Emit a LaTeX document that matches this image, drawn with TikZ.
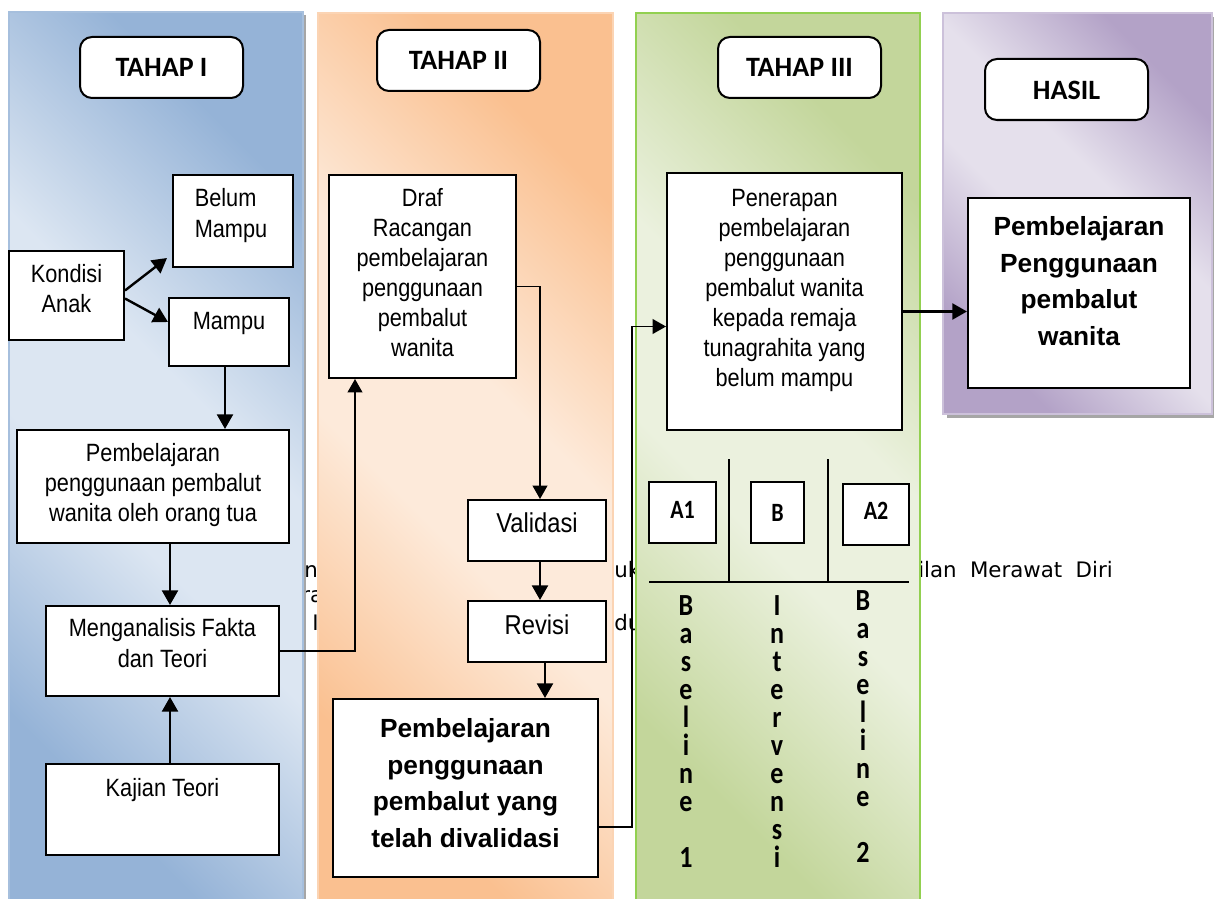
\documentclass[tikz,border=0pt]{standalone}
\usepackage{fontspec}
\usepackage{graphicx}
\setmainfont{Liberation Sans}
\newfontfamily\calfont{Carlito}
\newfontfamily\dvfont{DejaVu Sans}
\usetikzlibrary{arrows.meta,calc,fit}
\definecolor{bluel}{HTML}{DCE6F2}
\definecolor{blued}{HTML}{95B3D7}
\definecolor{blueb}{HTML}{A6BFDD}
\definecolor{orl}{HTML}{FDEADA}
\definecolor{ord}{HTML}{FAC090}
\definecolor{orb}{HTML}{FBD4B4}
\definecolor{grl}{HTML}{EBF1DE}
\definecolor{grd}{HTML}{C3D69B}
\definecolor{grb}{HTML}{92D050}
\definecolor{pul}{HTML}{E5E0EC}
\definecolor{pud}{HTML}{B3A2C7}
\definecolor{pub}{HTML}{CCC1DA}
\definecolor{shd}{HTML}{A6A6A6}
\pgfdeclareverticalshading{pblue}{100bp}{color(0bp)=(blued); color(26bp)=(blued); color(44bp)=(bluel); color(56bp)=(bluel); color(74bp)=(blued); color(100bp)=(blued)}
\pgfdeclareverticalshading{porange}{100bp}{color(0bp)=(ord); color(26bp)=(ord); color(44bp)=(orl); color(56bp)=(orl); color(74bp)=(ord); color(100bp)=(ord)}
\pgfdeclareverticalshading{pgreen}{100bp}{color(0bp)=(grd); color(26bp)=(grd); color(44bp)=(grl); color(56bp)=(grl); color(74bp)=(grd); color(100bp)=(grd)}
\pgfdeclareverticalshading{ppurple}{100bp}{color(0bp)=(pud); color(26bp)=(pud); color(44bp)=(pul); color(56bp)=(pul); color(74bp)=(pud); color(100bp)=(pud)}
\newcommand\sy[1]{\scalebox{1}[1.15]{\begin{tabular}{@{}c@{}}#1\end{tabular}}}
\newcommand\syl[1]{\scalebox{1}[1.15]{\begin{tabular}{@{}l@{}}#1\end{tabular}}}
\newcommand\vtext[1]{\scalebox{1}[1.18]{\parbox{2em}{\centering\calfont\fontsize{19.5}{17.8}\selectfont\bfseries #1}}}
\begin{document}
\begin{tikzpicture}[x=0.75pt,y=-0.75pt,
  box/.style={draw=black, line width=1.5pt, fill=white, inner sep=0pt},
  ttl/.style={draw=black, line width=1.5pt, fill=white, rounded corners=9pt, inner sep=0pt},
  ttxt/.style={inner sep=0pt, font=\calfont\fontsize{21}{24}\selectfont\bfseries},
  atxt/.style={inner sep=0pt, font=\calfont\fontsize{16.5}{20}\selectfont\bfseries},
  txt/.style={inner sep=0pt, align=center, font=\fontsize{16.3}{19.6}\selectfont},
  ltxt/.style={inner sep=0pt, align=center, font=\fontsize{17.8}{21}\selectfont},
  btxt/.style={inner sep=0pt, align=center, font=\fontsize{19.7}{27.5}\selectfont\bfseries},
  arr/.style={line width=1.8pt, -{Triangle[length=11pt,width=12pt]}},
  arrt/.style={line width=1.3pt, -{Triangle[length=10pt,width=11pt]}},
  ln/.style={line width=1.3pt},
  frag/.style={inner sep=0pt, anchor=base west, font=\dvfont\fontsize{16}{19}\selectfont},
  vt/.style={inner sep=0pt, anchor=north},
  panel/.style={line width=1pt}]
\useasboundingbox (0,0) rectangle (1214,899);

% fragments of the page text behind the panels
\node[frag] (f1) at (304,577) {na};
\node[frag] (f2) at (301,602) {ra};
\node[frag] (f3) at (312,630) {I};
\node[frag] (f4) at (614,577) {uk};
\node[frag] (f5) at (614,630) {du};
\node[frag] (f6) at (918,577) {ilan\hspace{10pt}Merawat\hspace{10pt}Diri};

% panels
\fill[shd] (12,15) rectangle (306,905);
\path[panel, shade, shading=pblue, shading angle=-45, draw=blueb] (9,12) rectangle (303,905);
\path[panel, shade, shading=porange, shading angle=-45, draw=orb] (318,13) rectangle (613,905);
\path[panel, shade, shading=pgreen, shading angle=-45, draw=grb, line width=2pt] (636,13) rectangle (920,905);
\fill[shd] (947,17) rectangle (1216,418);
\path[panel, shade, shading=ppurple, shading angle=-45, draw=pub] (943,13) rectangle (1212,414);

% titles
\node[ttl, fit={(80,37)(243,98)}] (t1) {};
\node[ttxt] (t1T) at (t1.center) {TAHAP I};
\node[ttl, fit={(377,30)(540,91)}] (t2) {};
\node[ttxt] (t2T) at (t2.center) {TAHAP II};
\node[ttl, fit={(718,37)(881,98)}] (t3) {};
\node[ttxt] (t3T) at (t3.center) {TAHAP III};
\node[ttl, fit={(985,59)(1148,120)}] (t4) {};
\node[ttxt] (t4T) at ($(t4.center)+(0,1)$) {HASIL};

% tahap I
\node[box, fit={(9,251)(124,340)}] (kondisi) {};
\node[txt] (kondisiT) at ($(kondisi.center)+(0,-4)$) {\sy{Kondisi\\Anak}};
\node[box, fit={(173,175)(293,267)}] (belum) {};
\node[txt] (belumT) at ($(belum.center)+(-2,-5)$) {\syl{Belum\\Mampu}};
\node[box, fit={(169,298)(289,366)}] (mampu) {};
\node[txt] (mampuT) at ($(mampu.center)+(0,-9)$) {\sy{Mampu}};
\node[box, fit={(17,430)(289,543)}] (pemb) {};
\node[txt] (pembT) at ($(pemb.center)+(0,-1)$) {\sy{Pembelajaran\\penggunaan pembalut\\wanita oleh orang tua}};
\node[box, fit={(46,606)(279,696)}] (mengan) {};
\node[txt] (menganT) at ($(mengan.center)+(0,-5)$) {\sy{Menganalisis Fakta\\dan Teori}};
\node[box, fit={(46,764)(279,855)}] (kajian) {};
\node[txt] (kajianT) at ($(kajian.center)+(0,-19)$) {\sy{Kajian Teori}};

% tahap II
\node[box, fit={(329,175)(516,378)}] (draf) {};
\node[txt] (drafT) at ($(draf.center)+(0,-1)$) {\sy{Draf\\Racangan\\pembelajaran\\penggunaan\\pembalut\\wanita}};
\node[box, fit={(468,500)(606,561)}] (valid) {};
\node[ltxt] (validT) at ($(valid.center)+(0,-4)$) {\sy{Validasi}};
\node[box, fit={(468,601)(606,662)}] (revisi) {};
\node[ltxt] (revisiT) at ($(revisi.center)+(0,-3)$) {\sy{Revisi}};
\node[box, fit={(333,699)(598,877)}] (big) {};
\node[btxt] (bigT) at ($(big.center)+(0,-5)$) {Pembelajaran\\penggunaan\\pembalut yang\\telah divalidasi};

% tahap III
\node[box, fit={(667,173)(902,430)}] (pen) {};
\node[txt] (penT) at ($(pen.center)+(0,-11)$) {\sy{Penerapan\\pembelajaran\\penggunaan\\pembalut wanita\\kepada remaja\\tunagrahita yang\\belum mampu}};
\node[box, fit={(649,482)(716,543)}] (a1) {};
\node[atxt] (a1T) at ($(a1.center)+(0,-3)$) {\scalebox{1}[1.2]{A1}};
\node[box, fit={(751,482)(804,543)}] (bb) {};
\node[atxt] (bbT) at (bb.center) {\scalebox{1}[1.2]{B}};
\node[box, fit={(843,484)(909,545)}] (a2) {};
\node[atxt] (a2T) at ($(a2.center)+(0,-4)$) {\scalebox{1}[1.2]{A2}};
\draw[ln] (729,459) -- (729,582);
\draw[ln] (828,459) -- (828,582);
\draw[ln] (649,582) -- (909,582);
\node[vt] (bl1) at (686,595) {\vtext{B\\a\\s\\e\\l\\i\\n\\e\\\mbox{}\\1}};
\node[vt] (intv) at (777,595) {\vtext{I\\n\\t\\e\\r\\v\\e\\n\\s\\i}};
\node[vt] (bl2) at (863,590) {\vtext{B\\a\\s\\e\\l\\i\\n\\e\\\mbox{}\\2}};

% hasil
\node[box, fit={(968,198)(1190,388)}] (hasil) {};
\node[btxt] (hasilT) at ($(hasil.center)+(0,-12)$) {Pembelajaran\\Penggunaan\\pembalut\\wanita};

% connectors
\draw[arr] ($(kondisi.east)+(0,-5)$) -- ($(belum.south west)+(-5,-10)$);
\draw[arr] ($(kondisi.east)+(0,3)$) -- ($(mampu.west)+(0,-10)$);
\coordinate (m1) at ($(mampu.south)+(-4,0)$);
\draw[arr] (m1) -- (m1 |- pemb.north);
\coordinate (xa) at (170,0);
\draw[arr] (pemb.south -| xa) -- (mengan.north -| xa);
\draw[arr] (kajian.north -| xa) -- (mengan.south -| xa);
\coordinate (xb) at (355,0);
\draw[arrt] (mengan.east) -| (draf.south -| xb);
\coordinate (d1) at ($(draf.east)+(0,10)$);
\coordinate (xd) at (540,0);
\draw[arrt] (d1) -| (valid.north -| xd);
\draw[arr] (valid.south -| xd) -- (revisi.north -| xd);
\coordinate (r1) at ($(revisi.south)+(8,0)$);
\draw[arr] (r1) -- (r1 |- big.north);
\coordinate (b1) at ($(big.east)+(0,39)$);
\coordinate (p1) at ($(pen.west)+(0,25)$);
\coordinate (xc) at (632,0);
\draw[arrt] (b1) -| (xc |- p1) -- (p1);
\coordinate (p2) at ($(pen.east)+(0,10)$);
\draw[arr] (p2) -- (p2 -| hasil.west);
\end{tikzpicture}
\end{document}
